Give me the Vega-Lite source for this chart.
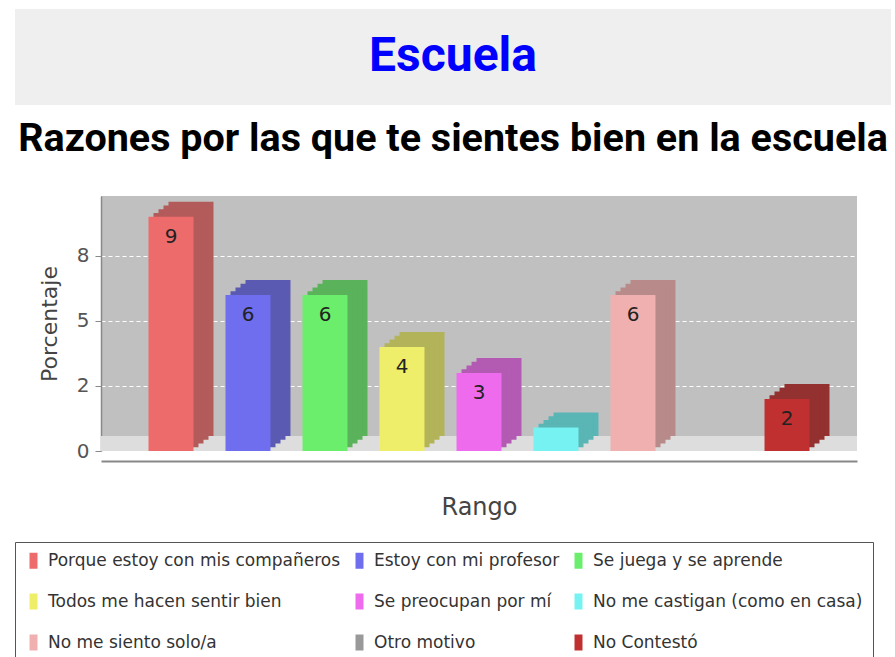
{
  "$schema": "https://vega.github.io/schema/vega-lite/v6.json",
  "background": "white",
  "padding": {"left": 14, "top": 9, "right": 5, "bottom": 0},
  "spacing": 0,
  "config": {
    "view": {"stroke": null},
    "font": "DejaVu Sans",
    "axisX": {"labels": false, "ticks": false, "offset": 10, "domainColor": "#888888", "domainWidth": 2, "titleFontSize": 24, "titleFontWeight": "normal", "titleColor": "#444444", "titlePadding": 34, "grid": false},
    "axisY": {"labelFontSize": 20, "labelColor": "#555555", "labelPadding": 6, "tickSize": 6, "tickColor": "#888888", "domainColor": "#888888", "domainWidth": 1.5, "grid": true, "gridColor": "#ffffff", "gridDash": [4, 3], "gridWidth": 1.2, "titleFontSize": 22, "titleFontWeight": "normal", "titleColor": "#444444", "titlePadding": 15}
  },
  "datasets": {
    "razones": [
      {"motivo": "Porque estoy con mis compañeros", "valor": 9},
      {"motivo": "Estoy con mi profesor", "valor": 6},
      {"motivo": "Se juega y se aprende", "valor": 6},
      {"motivo": "Todos me hacen sentir bien", "valor": 4},
      {"motivo": "Se preocupan por mí", "valor": 3},
      {"motivo": "No me castigan (como en casa)", "valor": 0.9},
      {"motivo": "No me siento solo/a", "valor": 6},
      {"motivo": "Otro motivo", "valor": 0},
      {"motivo": "No Contestó", "valor": 2}
    ]
  },
  "vconcat": [
    {
      "width": 876,
      "height": 96,
      "data": {"values": [{"titulo": "Escuela"}]},
      "layer": [
        {
          "mark": {"type": "rect", "color": "#efefef", "xOffset": -86, "x2Offset": -86},
          "encoding": {"x": {"value": 0}, "x2": {"value": "width"}}
        },
        {
          "mark": {"type": "text", "font": "Roboto", "fontWeight": "bold", "fontSize": 48, "color": "#0000ff", "baseline": "middle", "dx": -86},
          "encoding": {"text": {"field": "titulo", "type": "nominal"}}
        }
      ]
    },
    {
      "width": 876,
      "height": 91,
      "data": {"values": [{"subtitulo": "Razones por las que te sientes bien en la escuela"}]},
      "mark": {"type": "text", "font": "Roboto", "fontWeight": "bold", "fontSize": 39.5, "color": "#000000", "baseline": "alphabetic", "dx": -86},
      "encoding": {"text": {"field": "subtitulo", "type": "nominal"}}
    },
    {
      "width": 756,
      "height": 255,
      "view": {"fill": "#c0c0c0", "stroke": null},
      "data": {"name": "razones"},
      "resolve": {"scale": {"color": "independent"}},
      "layer": [
        {
          "mark": {"type": "rule", "color": "#dddddd", "strokeWidth": 15, "yOffset": -7.5},
          "encoding": {
            "y": {"datum": 0, "type": "quantitative", "title": "Porcentaje", "scale": {"domain": [0, 9.8], "nice": false}}
          }
        },
        {
          "mark": {"type": "bar", "xOffset": 20, "yOffset": -15, "y2Offset": -15},
          "encoding": {
            "x": {"field": "motivo", "type": "nominal", "sort": null, "title": "Rango", "scale": {"paddingInner": 0.416, "paddingOuter": 0.617}},
            "y": {"field": "valor", "type": "quantitative", "title": "Porcentaje", "scale": {"domain": [0, 9.8], "nice": false}},
            "color": {"field": "motivo", "type": "nominal", "sort": null, "legend": null, "scale": {"range": ["#b35a5a", "#5a5ab3", "#5ab35a", "#b3b35a", "#b35ab3", "#5ab5b5", "#b88a8a", "#888888", "#933030"]}}
          }
        },
        {
          "mark": {"type": "bar", "xOffset": 15, "yOffset": -11.25, "y2Offset": -11.25},
          "encoding": {
            "x": {"field": "motivo", "type": "nominal", "sort": null, "title": "Rango", "scale": {"paddingInner": 0.416, "paddingOuter": 0.617}},
            "y": {"field": "valor", "type": "quantitative", "title": "Porcentaje", "scale": {"domain": [0, 9.8], "nice": false}},
            "color": {"field": "motivo", "type": "nominal", "sort": null, "legend": null, "scale": {"range": ["#b35a5a", "#5a5ab3", "#5ab35a", "#b3b35a", "#b35ab3", "#5ab5b5", "#b88a8a", "#888888", "#933030"]}}
          }
        },
        {
          "mark": {"type": "bar", "xOffset": 10, "yOffset": -7.5, "y2Offset": -7.5},
          "encoding": {
            "x": {"field": "motivo", "type": "nominal", "sort": null, "title": "Rango", "scale": {"paddingInner": 0.416, "paddingOuter": 0.617}},
            "y": {"field": "valor", "type": "quantitative", "title": "Porcentaje", "scale": {"domain": [0, 9.8], "nice": false}},
            "color": {"field": "motivo", "type": "nominal", "sort": null, "legend": null, "scale": {"range": ["#b35a5a", "#5a5ab3", "#5ab35a", "#b3b35a", "#b35ab3", "#5ab5b5", "#b88a8a", "#888888", "#933030"]}}
          }
        },
        {
          "mark": {"type": "bar", "xOffset": 5, "yOffset": -3.75, "y2Offset": -3.75},
          "encoding": {
            "x": {"field": "motivo", "type": "nominal", "sort": null, "title": "Rango", "scale": {"paddingInner": 0.416, "paddingOuter": 0.617}},
            "y": {"field": "valor", "type": "quantitative", "title": "Porcentaje", "scale": {"domain": [0, 9.8], "nice": false}},
            "color": {"field": "motivo", "type": "nominal", "sort": null, "legend": null, "scale": {"range": ["#b35a5a", "#5a5ab3", "#5ab35a", "#b3b35a", "#b35ab3", "#5ab5b5", "#b88a8a", "#888888", "#933030"]}}
          }
        },
        {
          "mark": {"type": "bar"},
          "encoding": {
            "x": {"field": "motivo", "type": "nominal", "sort": null, "title": "Rango", "scale": {"paddingInner": 0.416, "paddingOuter": 0.617}},
            "y": {"field": "valor", "type": "quantitative", "title": "Porcentaje", "scale": {"domain": [0, 9.8], "nice": false},
              "axis": {"values": [0, 2.5, 5, 7.5], "labelExpr": "datum.value == 2.5 ? '2' : format(datum.value, '.0f')"}},
            "color": {"field": "motivo", "type": "nominal", "sort": null,
              "scale": {"range": ["#ee6b6b", "#6e6eee", "#6bee6b", "#eeee6b", "#ee6bee", "#77f2f2", "#f0b0b0", "#999999", "#c03030"]},
              "legend": {"orient": "none", "legendX": -86, "legendY": 346, "direction": "horizontal", "columns": 3, "title": null,
                "symbolType": "M-0.5,-1H0.5V1H-0.5Z", "symbolSize": 256, "symbolStrokeWidth": 0, "labelFontSize": 17, "labelFont": "DejaVu Sans", "labelColor": "#333333", "labelLimit": 0,
                "columnPadding": 10, "rowPadding": 23, "padding": 10, "strokeColor": "#555555", "fillColor": "#ffffff", "labelOffset": 6}}
          }
        },
        {
          "transform": [{"filter": "datum.valor >= 1.5"}],
          "mark": {"type": "text", "baseline": "top", "dy": 10, "fontSize": 20, "color": "#222222"},
          "encoding": {
            "x": {"field": "motivo", "type": "nominal", "sort": null, "title": "Rango", "scale": {"paddingInner": 0.416, "paddingOuter": 0.617}},
            "y": {"field": "valor", "type": "quantitative", "title": "Porcentaje", "scale": {"domain": [0, 9.8], "nice": false}},
            "text": {"field": "valor", "type": "quantitative", "format": ".0f"}
          }
        }
      ]
    }
  ]
}
